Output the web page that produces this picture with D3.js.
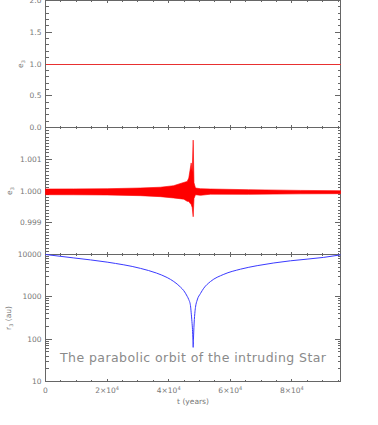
<!DOCTYPE html>
<html><head><meta charset="utf-8">
<script src="https://cdn.jsdelivr.net/npm/d3@7"></script>
<style>
html,body{margin:0;padding:0;background:#fff;}
svg{display:block;}
text{font-family:"DejaVu Sans",sans-serif;}
</style></head>
<body>
<script>
// ---- data ----
const xMajorTicks = [0, 20000, 40000, 60000, 80000];
const xTickMantissa = ["0", "2", "4", "6", "8"];
const xTickExponent = ["", "4", "4", "4", "4"];
const xTitle = "t (years)";

const topTicks = [0, 0.5, 1.0, 1.5, 2.0];
const topTickLabels = ["0.0", "0.5", "1.0", "1.5", "2.0"];
const topTime = [0, 95800];
const topEcc = [1.0, 1.0];

const midTicks = [0.999, 1.000, 1.001];
const midTickLabels = ["0.999", "1.000", "1.001"];
const envTime  = [0, 9090, 20030, 30850, 37340, 41560, 44900, 46010, 46530, 47310, 47640, 47960, 48220, 48710, 50330, 53580, 65910, 82800, 95800];
const envUpper = [1.0000625, 1.000066, 1.000072, 1.000094, 1.000119, 1.000166, 1.000269, 1.000300, 1.000406, 1.000884, 1.000600, 1.001603, 1.000260, 1.000094, 1.000072, 1.000062, 1.000041, 1.000019, 1.000009];
const envLower = [0.999884, 0.999881, 0.999875, 0.999853, 0.999822, 0.999781, 0.999744, 0.999675, 0.999666, 0.999572, 0.999480, 0.999188, 0.999760, 0.999884, 0.999863, 0.999900, 0.999894, 0.999910, 0.999916];

const botTicks = [10, 100, 1000, 10000];
const botTickLabels = ["10", "100", "1000", "10000"];
const orbitTime = [0, 9190, 20030, 30850, 36000, 39520, 41660, 43830, 44900, 46010, 46530, 47080, 47310, 47560, 47730, 47880, 47960, 48050, 48200, 48480, 48700, 49260, 50330, 51400, 53580, 57900, 63320, 68740, 79550, 90360, 95800];
const orbitR    = [10000, 8300, 6600, 4700, 3650, 2850, 2300, 1700, 1400, 1030, 860, 620, 420, 260, 170, 95, 64, 100, 190, 400, 560, 840, 1200, 1600, 2300, 3400, 4500, 5450, 7100, 8550, 9800];

const annotation = "The parabolic orbit of the intruding Star";

// ---- layout ----
const W = 378, H = 425;
const L = 45.5, R = 340.5;
const axisColor = "#666", textColor = "#777";

const svg = d3.select("body").append("svg").attr("width", W).attr("height", H);

const x = d3.scaleLinear().domain([0, 95800]).range([L, R]);

const panels = [
  {top: 0.5, bottom: 127.5, y: d3.scaleLinear().domain([0, 2]).range([127.5, 0.5]),
   major: topTicks, labels: topTickLabels, minor: d3.range(0, 2.0001, 0.1), title: "e", sub: "3", titleX: 23, suffix: ""},
  {top: 127.5, bottom: 254.5, y: d3.scaleLinear().domain([0.998, 1.002]).range([254.5, 127.5]),
   major: midTicks, labels: midTickLabels, minor: d3.range(0, 41).map(i => 0.998 + i * 0.0001), title: "e", sub: "3", titleX: 12, suffix: ""},
  {top: 254.5, bottom: 381.5, y: d3.scaleLog().domain([10, 10000]).range([381.5, 254.5]),
   major: botTicks, labels: botTickLabels,
   minor: [10,100,1000].flatMap(d => d3.range(2, 10).map(m => m * d)), title: "r", sub: "3", titleX: 11, suffix: " (au)"}
];

const xMinor = d3.range(0, 95801, 5000);
const xMajLen = 2.5, xMinLen = 1.3, yMajLen = 6, yMinLen = 3;

panels.forEach((p, i) => {
  const g = svg.append("g");
  g.append("rect").attr("x", L).attr("y", p.top).attr("width", R - L).attr("height", p.bottom - p.top)
    .attr("fill", "none").attr("stroke", axisColor).attr("stroke-width", 1).attr("shape-rendering", "crispEdges");
  const xt = g.append("g").attr("stroke", axisColor).attr("shape-rendering", "crispEdges");
  xMinor.forEach(t => {
    const major = xMajorTicks.includes(t);
    const len = major ? xMajLen : xMinLen;
    const px = Math.round(x(t) - 0.5) + 0.5;
    xt.append("line").attr("x1", px).attr("x2", px).attr("y1", p.bottom).attr("y2", p.bottom - len);
    xt.append("line").attr("x1", px).attr("x2", px).attr("y1", p.top).attr("y2", p.top + len);
  });
  const yt = g.append("g").attr("stroke", axisColor).attr("shape-rendering", "crispEdges");
  const drawY = (v, len) => {
    const py = Math.round(p.y(v) - 0.5) + 0.5;
    yt.append("line").attr("x1", L).attr("x2", L + len).attr("y1", py).attr("y2", py);
    yt.append("line").attr("x1", R).attr("x2", R - len).attr("y1", py).attr("y2", py);
  };
  p.minor.forEach(v => drawY(v, yMinLen));
  p.major.forEach(v => drawY(v, yMajLen));
  g.selectAll("text.yl").data(p.major).enter().append("text")
    .attr("x", 41.5).attr("y", d => p.y(d)).attr("dy", "0.35em")
    .attr("text-anchor", "end").attr("font-size", "7.5px").attr("fill", textColor)
    .text((d, k) => p.labels[k]);
  const cy = (p.top + p.bottom) / 2;
  const tt = g.append("text").attr("transform", `translate(${p.titleX},${cy}) rotate(-90)`)
    .attr("text-anchor", "middle").attr("font-size", "7.5px").attr("fill", textColor);
  tt.append("tspan").text(p.title);
  tt.append("tspan").attr("font-size", "5px").attr("dy", "1.5").text(p.sub);
  if (p.suffix) tt.append("tspan").attr("dy", "-1.5").text(p.suffix);
});

const xl = svg.append("g");
xMajorTicks.forEach((t, k) => {
  const tx = xl.append("text").attr("x", x(t)).attr("y", 393)
    .attr("text-anchor", "middle").attr("font-size", "7.5px").attr("fill", textColor);
  if (xTickExponent[k]) {
    tx.append("tspan").text(xTickMantissa[k] + "×10");
    tx.append("tspan").attr("font-size", "5px").attr("dy", "-3.5").text(xTickExponent[k]);
  } else {
    tx.text(xTickMantissa[k]);
  }
});
svg.append("text").attr("x", (L + R) / 2).attr("y", 404).attr("text-anchor", "middle")
  .attr("font-size", "7.5px").attr("fill", textColor).text(xTitle);

const pTop = panels[0], pMid = panels[1], pBot = panels[2];
svg.append("path").datum(topTime.map((t, i) => [t, topEcc[i]]))
  .attr("d", d3.line().x(d => x(d[0])).y(d => Math.round(pTop.y(d[1]) - 0.5) + 0.5))
  .attr("fill", "none").attr("stroke", "#e83030").attr("stroke-width", 1).attr("shape-rendering", "crispEdges");

svg.append("path").datum(envTime.map((t, i) => [t, envUpper[i], envLower[i]]))
  .attr("d", d3.area().x(d => x(d[0])).y0(d => pMid.y(d[2])).y1(d => pMid.y(d[1])))
  .attr("fill", "#ff0000").attr("stroke", "#ff0000").attr("stroke-width", 0.6);

svg.append("path").datum(orbitTime.map((t, i) => [t, orbitR[i]]))
  .attr("d", d3.line().x(d => x(d[0])).y(d => pBot.y(d[1])).curve(d3.curveMonotoneX))
  .attr("fill", "none").attr("stroke", "#3a3aff").attr("stroke-width", 1);

svg.append("text").attr("x", 60).attr("y", 361.5).attr("font-size", "12.5px").attr("fill", "#8a8a8a")
  .attr("textLength", 266).attr("lengthAdjust", "spacing").text(annotation);
</script>
</body></html>
